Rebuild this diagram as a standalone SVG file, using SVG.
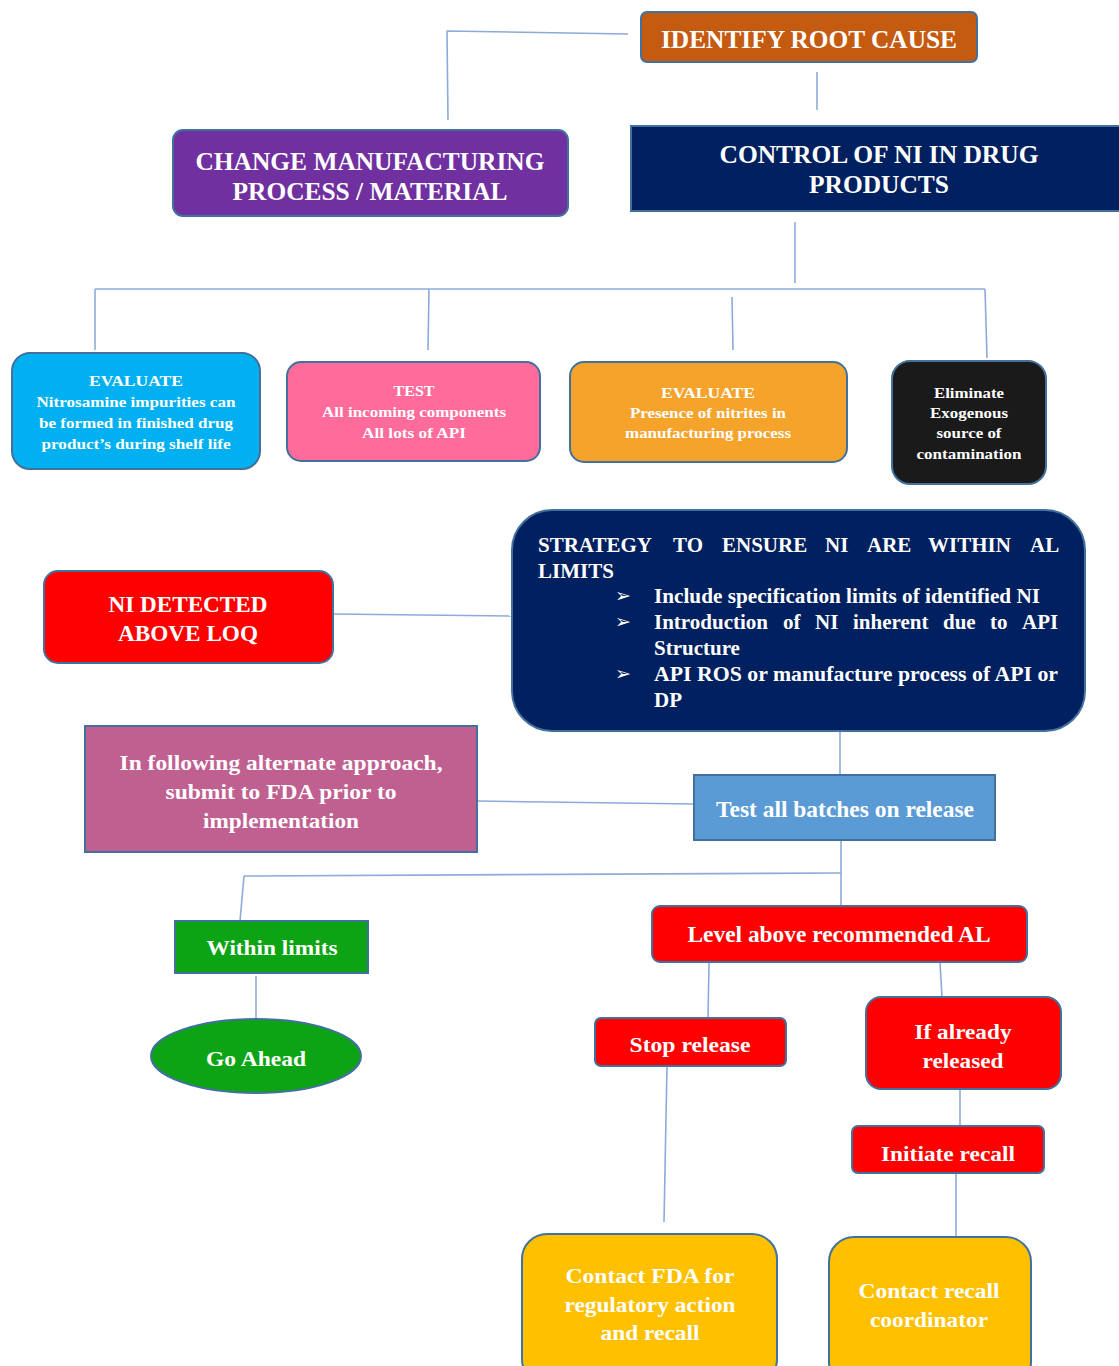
<svg xmlns="http://www.w3.org/2000/svg" width="1119" height="1366" viewBox="0 0 1119 1366">
<style>
.c{fill:none;stroke:#8eaadb;stroke-width:1.6}
.b{stroke:#41719c;stroke-width:2}
text{font-family:"Liberation Serif","Times New Roman",serif;font-weight:bold;fill:#fff}
.m{text-anchor:middle}
.bl{font-family:"DejaVu Sans",sans-serif;font-size:19px;font-weight:normal}
</style>
<rect width="1119" height="1366" fill="#fff"/>
<g id="connectors">
<path class="c" d="M628,34 L447,31 L448,120"/>
<path class="c" d="M817,72 L817,110"/>
<path class="c" d="M795,222 L795,283"/>
<path class="c" d="M95,289 L985,289"/>
<path class="c" d="M95,289 L95,350"/>
<path class="c" d="M429,289 L428,350"/>
<path class="c" d="M732,297 L733,350"/>
<path class="c" d="M985,289 L987,358"/>
<path class="c" d="M333,614 L512,616"/>
<path class="c" d="M840,731 L840,775"/>
<path class="c" d="M477,801 L694,804"/>
<path class="c" d="M841,840 L841,905"/>
<path class="c" d="M244,876 L841,873"/>
<path class="c" d="M244,876 L240,921"/>
<path class="c" d="M256,976 L256,1018"/>
<path class="c" d="M709,963 L708,1018"/>
<path class="c" d="M940,963 L942,997"/>
<path class="c" d="M667,1066 L664,1222"/>
<path class="c" d="M960,1090 L960,1125"/>
<path class="c" d="M956,1173 L956,1242"/>
</g>
<g id="identify">
<rect class="b" x="641" y="12" width="336" height="50" rx="6" fill="#c55a11"/>
<text class="m" x="809" y="48" font-size="26" textLength="296" lengthAdjust="spacingAndGlyphs">IDENTIFY ROOT CAUSE</text>
</g>
<g id="change">
<rect class="b" x="173" y="130" width="395" height="86" rx="10" fill="#7030a0"/>
<text class="m" x="370" y="170" font-size="26" textLength="349" lengthAdjust="spacingAndGlyphs">CHANGE MANUFACTURING</text>
<text class="m" x="370" y="200" font-size="26" textLength="275" lengthAdjust="spacingAndGlyphs">PROCESS / MATERIAL</text>
</g>
<g id="control">
<rect class="b" x="631" y="126" width="495" height="85" fill="#002060"/>
<text class="m" x="879" y="163" font-size="26" textLength="319" lengthAdjust="spacingAndGlyphs">CONTROL OF NI IN DRUG</text>
<text class="m" x="879" y="193" font-size="26" textLength="140" lengthAdjust="spacingAndGlyphs">PRODUCTS</text>
</g>
<g id="evaluate1">
<rect class="b" x="12" y="353" width="248" height="116" rx="18" fill="#00b0f0"/>
<text class="m" x="136" y="386" font-size="15" textLength="94" lengthAdjust="spacingAndGlyphs">EVALUATE</text>
<text class="m" x="136" y="407" font-size="15" textLength="199" lengthAdjust="spacingAndGlyphs">Nitrosamine impurities can</text>
<text class="m" x="136" y="428" font-size="15" textLength="194" lengthAdjust="spacingAndGlyphs">be formed in finished drug</text>
<text class="m" x="136" y="449" font-size="15" textLength="189" lengthAdjust="spacingAndGlyphs">product’s during shelf life</text>
</g>
<g id="test">
<rect class="b" x="287" y="362" width="253" height="99" rx="14" fill="#ff6b9a"/>
<text class="m" x="414" y="396" font-size="15" textLength="41" lengthAdjust="spacingAndGlyphs">TEST</text>
<text class="m" x="414" y="417" font-size="15" textLength="184" lengthAdjust="spacingAndGlyphs">All incoming components</text>
<text class="m" x="414" y="438" font-size="15" textLength="104" lengthAdjust="spacingAndGlyphs">All lots of API</text>
</g>
<g id="evaluate2">
<rect class="b" x="570" y="362" width="277" height="100" rx="14" fill="#f6a32c"/>
<text class="m" x="708" y="398" font-size="15" textLength="94" lengthAdjust="spacingAndGlyphs">EVALUATE</text>
<text class="m" x="708" y="418" font-size="15" textLength="156" lengthAdjust="spacingAndGlyphs">Presence of nitrites in</text>
<text class="m" x="708" y="438" font-size="15" textLength="166" lengthAdjust="spacingAndGlyphs">manufacturing process</text>
</g>
<g id="eliminate">
<rect class="b" x="892" y="361" width="154" height="123" rx="18" fill="#1a1a1a"/>
<text class="m" x="969" y="398" font-size="15" textLength="70" lengthAdjust="spacingAndGlyphs">Eliminate</text>
<text class="m" x="969" y="418" font-size="15" textLength="78" lengthAdjust="spacingAndGlyphs">Exogenous</text>
<text class="m" x="969" y="438" font-size="15" textLength="65" lengthAdjust="spacingAndGlyphs">source of</text>
<text class="m" x="969" y="459" font-size="15" textLength="105" lengthAdjust="spacingAndGlyphs">contamination</text>
</g>
<g id="strategy">
<rect class="b" x="512" y="510" width="573" height="221" rx="40" fill="#002060"/>
<text font-size="21">
<tspan x="538" y="552">STRATEGY</tspan><tspan x="673" y="552">TO</tspan><tspan x="722" y="552">ENSURE</tspan><tspan x="825" y="552">NI</tspan><tspan x="867" y="552">ARE</tspan><tspan x="928" y="552">WITHIN</tspan><tspan x="1030" y="552">AL</tspan>
</text>
<text font-size="21" x="538" y="578">LIMITS</text>
<text class="bl" x="615" y="602">➢</text>
<text class="bl" x="615" y="628">➢</text>
<text class="bl" x="615" y="680">➢</text>
<text font-size="21" x="654" y="603" textLength="386" lengthAdjust="spacingAndGlyphs">Include specification limits of identified NI</text>
<text font-size="21">
<tspan x="654" y="629">Introduction</tspan><tspan x="783" y="629">of</tspan><tspan x="815" y="629">NI</tspan><tspan x="853" y="629">inherent</tspan><tspan x="943" y="629">due</tspan><tspan x="990" y="629">to</tspan><tspan x="1022" y="629">API</tspan>
</text>
<text font-size="21" x="654" y="655">Structure</text>
<text font-size="21" x="654" y="681" textLength="404" lengthAdjust="spacingAndGlyphs">API ROS or manufacture process of API or</text>
<text font-size="21" x="654" y="707">DP</text>
</g>
<g id="ni-detected">
<rect class="b" x="44" y="571" width="289" height="92" rx="14" fill="#ff0000"/>
<text class="m" x="188" y="612" font-size="24" textLength="159" lengthAdjust="spacingAndGlyphs">NI DETECTED</text>
<text class="m" x="188" y="641" font-size="24" textLength="140" lengthAdjust="spacingAndGlyphs">ABOVE LOQ</text>
</g>
<g id="alternate">
<rect class="b" x="85" y="726" width="392" height="126" fill="#c06090"/>
<text class="m" x="281" y="770" font-size="22" textLength="323" lengthAdjust="spacingAndGlyphs">In following alternate approach,</text>
<text class="m" x="281" y="799" font-size="22" textLength="231" lengthAdjust="spacingAndGlyphs">submit to FDA prior to</text>
<text class="m" x="281" y="828" font-size="22" textLength="156" lengthAdjust="spacingAndGlyphs">implementation</text>
</g>
<g id="test-batches">
<rect class="b" x="694" y="775" width="301" height="65" fill="#5b9bd5"/>
<text class="m" x="845" y="817" font-size="23" textLength="258" lengthAdjust="spacingAndGlyphs">Test all batches on release</text>
</g>
<g id="within">
<rect class="b" x="175" y="921" width="193" height="52" fill="#0ca414"/>
<text class="m" x="272" y="955" font-size="22" textLength="131" lengthAdjust="spacingAndGlyphs">Within limits</text>
</g>
<g id="go-ahead">
<ellipse class="b" cx="256" cy="1056" rx="105" ry="37" fill="#0ca414"/>
<text class="m" x="256" y="1066" font-size="22" textLength="100" lengthAdjust="spacingAndGlyphs">Go Ahead</text>
</g>
<g id="level">
<rect class="b" x="652" y="906" width="375" height="56" rx="8" fill="#ff0000"/>
<text class="m" x="839" y="942" font-size="23" textLength="303" lengthAdjust="spacingAndGlyphs">Level above recommended AL</text>
</g>
<g id="stop">
<rect class="b" x="595" y="1018" width="191" height="48" rx="6" fill="#ff0000"/>
<text class="m" x="690" y="1052" font-size="22" textLength="121" lengthAdjust="spacingAndGlyphs">Stop release</text>
</g>
<g id="already">
<rect class="b" x="866" y="997" width="195" height="92" rx="15" fill="#ff0000"/>
<text class="m" x="963" y="1039" font-size="22" textLength="97" lengthAdjust="spacingAndGlyphs">If already</text>
<text class="m" x="963" y="1068" font-size="22" textLength="81" lengthAdjust="spacingAndGlyphs">released</text>
</g>
<g id="recall">
<rect class="b" x="852" y="1126" width="192" height="47" rx="6" fill="#ff0000"/>
<text class="m" x="948" y="1161" font-size="22" textLength="134" lengthAdjust="spacingAndGlyphs">Initiate recall</text>
</g>
<g id="contact-fda">
<rect class="b" x="522" y="1234" width="255" height="150" rx="25" fill="#ffc000"/>
<text class="m" x="650" y="1283" font-size="22" textLength="169" lengthAdjust="spacingAndGlyphs">Contact FDA for</text>
<text class="m" x="650" y="1312" font-size="22" textLength="171" lengthAdjust="spacingAndGlyphs">regulatory action</text>
<text class="m" x="650" y="1340" font-size="22" textLength="99" lengthAdjust="spacingAndGlyphs">and recall</text>
</g>
<g id="contact-coordinator">
<rect class="b" x="829" y="1237" width="202" height="150" rx="25" fill="#ffc000"/>
<text class="m" x="929" y="1298" font-size="22" textLength="141" lengthAdjust="spacingAndGlyphs">Contact recall</text>
<text class="m" x="929" y="1327" font-size="22" textLength="118" lengthAdjust="spacingAndGlyphs">coordinator</text>
</g>
</svg>
